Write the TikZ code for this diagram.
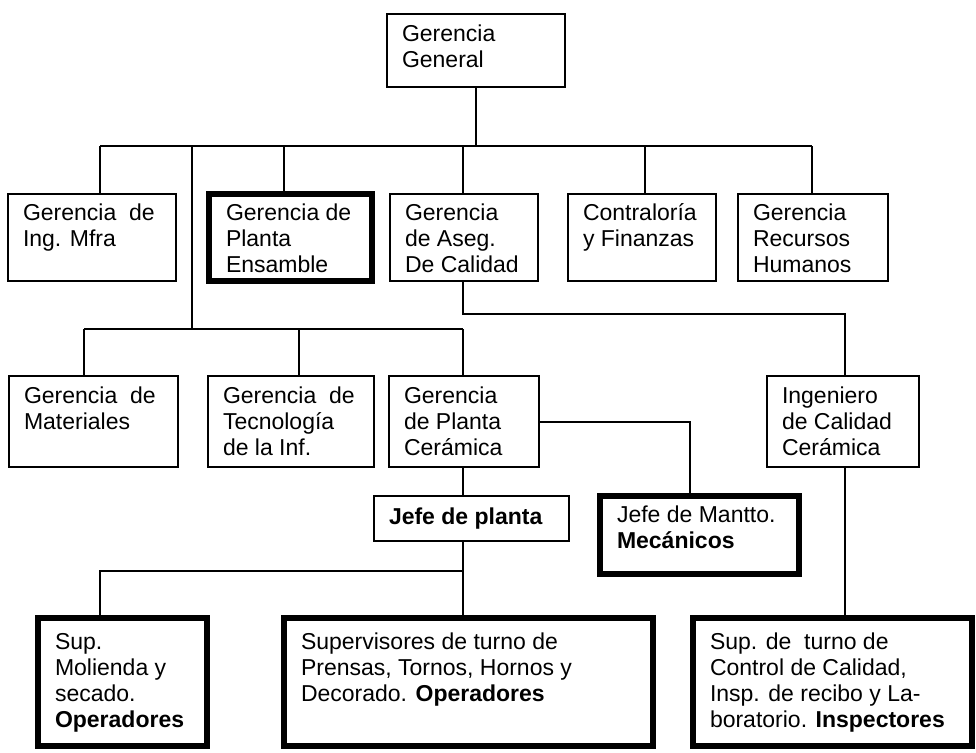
\documentclass[tikz,border=0pt]{standalone}
\usepackage{fontspec}
\setmainfont{Liberation Sans}
\usetikzlibrary{calc}
% text block of a box: width, height (pt), lines set top-left
\newcommand\bt[3]{\parbox[t][#2pt][t]{#1pt}{\raggedright\hyphenpenalty=10000\strut#3}}

\begin{document}
\begin{tikzpicture}[x=1pt,y=-1pt,
  box/.style={draw, line width=2pt, anchor=north west, outer sep=0pt,
    inner xsep=15pt, inner ysep=9pt, font=\fontsize{23}{26}\selectfont},
  heavy/.style={line width=6.5pt, inner xsep=17pt},
  link/.style={line width=2pt}]

\fill[white] (0,0) rectangle (976,752);
\useasboundingbox (0,0) rectangle (976,752);

% top
\node[box] (gg) at (387,14) {\bt{148}{55}{Gerencia\\General}};

% second row
\node[box, inner ysep=8pt] (ing)   at (8,194)   {\bt{138}{71}{Gerencia~ de\\Ing. Mfra}};
\node[box, heavy, inner ysep=8pt] (ens) at (209,194) {\bt{129}{71}{Gerencia de\\Planta\\Ensamble}};
\node[box, inner ysep=8pt] (aseg)  at (390,194) {\bt{118}{71}{Gerencia\\de Aseg.\\De Calidad}};
\node[box, inner ysep=8pt] (contr) at (568,194) {\bt{118}{71}{Contralor\'{\i}a\\y~Finanzas}};
\node[box, inner ysep=8pt] (rh)    at (738,194) {\bt{120}{71}{Gerencia\\Recursos\\Humanos}};

% third row
\node[box] (mat)  at (9,376)   {\bt{139}{73}{Gerencia~ de\\Materiales}};
\node[box] (tec)  at (208,376) {\bt{136}{73}{Gerencia~ de\\Tecnolog\'{\i}a\\de la Inf.}};
\node[box] (cer)  at (389,376) {\bt{120}{73}{Gerencia\\de Planta\\Cer\'amica}};
\node[box] (ing2) at (767,376) {\bt{122}{73}{Ingeniero\\de Calidad\\Cer\'amica}};

% plant level
\node[box, inner ysep=10pt] (jefe) at (374,496) {\bt{165}{25}{\bfseries Jefe de planta}};
\node[box, heavy, inner ysep=8pt] (mantto) at (600,496) {\bt{165}{62}{Jefe de Mantto.\\\textbf{Mec\'anicos}}};

% bottom row
\node[box, heavy, inner ysep=13pt] (mol) at (38,618)  {\bt{135}{102}{Sup.\\Molienda y\\secado.\\\textbf{Operadores}}};
\node[box, heavy, inner ysep=13pt] (sup) at (284,618) {\bt{335}{102}{Supervisores de turno de\\Prensas, Tornos, Hornos y\\Decorado. \textbf{Operadores}}};
\node[box, heavy, inner ysep=13pt] (ctl) at (693,618) {\bt{245}{102}{Sup. de~ turno de\\Control de Calidad,\\Insp. de recibo y La-\\boratorio. \textbf{Inspectores}}};

% branch points
\coordinate (b-ing)   at (100,146);
\coordinate (b-tall)  at (192,146);
\coordinate (b-ens)   at (284,146);
\coordinate (b-aseg)  at (463,146);
\coordinate (b-contr) at (645,146);
\coordinate (b-rh)    at (812,146);
\coordinate (c-mat)   at (84,329);
\coordinate (c-tec)   at (299,329);
\coordinate (c-cer)   at (463,329);
\coordinate (q)       at (845,314);
\coordinate (r)       at (690,422);
\coordinate (s)       at (100,571);

% connectors
\draw[link] (gg.south) -- (gg.south |- b-ing);
\draw[link] (b-ing) -- (b-rh);
\draw[link] (b-ing) -- (b-ing |- ing.north);
\draw[link] (b-ens) -- (b-ens |- ens.north);
\draw[link] (b-aseg) -- (b-aseg |- aseg.north);
\draw[link] (b-contr) -- (b-contr |- contr.north);
\draw[link] (b-rh) -- (b-rh |- rh.north);
\draw[link] (b-tall) -- (b-tall |- c-mat);
\draw[link] (c-mat) -- (c-cer);
\draw[link] (c-mat) -- (c-mat |- mat.north);
\draw[link] (c-tec) -- (c-tec |- tec.north);
\draw[link] (c-cer) -- (c-cer |- cer.north);
\draw[link] (b-aseg |- aseg.south) |- (q) -- (q |- ing2.north);
\draw[link] (cer.east |- r) -- (r) -- (r |- mantto.north);
\draw[link] (c-cer |- cer.south) -- (c-cer |- jefe.north);
\draw[link] (c-cer |- jefe.south) -- (c-cer |- sup.north);
\draw[link] (c-cer |- s) -- (s) -- (s |- mol.north);
\draw[link] (q |- ing2.south) -- (q |- ctl.north);
\end{tikzpicture}
\end{document}
